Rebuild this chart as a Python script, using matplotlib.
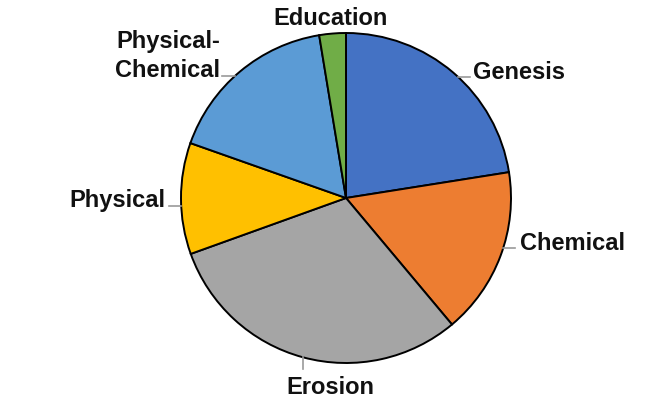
import numpy as np
import matplotlib
matplotlib.use("Agg")
import matplotlib.pyplot as plt

labels = ["Genesis", "Chemical", "Erosion", "Physical", "Physical-\nChemical", "Education"]
values = [22.5, 16.4, 30.6, 10.9, 17.0, 2.6]
colors = ["#4472C4", "#ED7D31", "#A5A5A5", "#FFC000", "#5B9BD5", "#70AD47"]

# anchor angle shift (deg), leader (dx, dy) and text baseline offset (dx, dy) in pixels, alignment
label_layout = [
    (-2.3, (12, 0), (15, -2), "left"),
    (3.0, (12, 0), (17, -2), "left"),
    (0.0, (0, -12), (27, -37), "center"),
    (2.7, (-12, 0), (-16, -1), "right"),
    (2.3, (-13, 0), (-15, -1), "right"),
    (0.0, (0, 0), (-2, 9), "center"),
]

W, H = 666, 412
fig = plt.figure(figsize=(W / 100, H / 100), dpi=100)
cx, cy, r = 346, 198, 165
ax = fig.add_axes([(cx - r) / W, (H - cy - r) / H, 2 * r / W, 2 * r / H])

wedges, _ = ax.pie(values, colors=colors, startangle=90, counterclock=False,
                   wedgeprops=dict(edgecolor="black", linewidth=1.4))
ax.set_xlim(-1, 1)
ax.set_ylim(-1, 1)
ax.set_aspect("equal")
ax.axis("off")

px = 1.0 / r
for w, lab, (shift, lead, toff, ha) in zip(wedges, labels, label_layout):
    mid = np.deg2rad((w.theta1 + w.theta2) / 2 + shift)
    ex, ey = np.cos(mid), np.sin(mid)
    if lead != (0, 0):
        ax.plot([ex, ex + lead[0] * px], [ey, ey + lead[1] * px],
                color="#9a9a9a", lw=1.2, clip_on=False)
    ax.text(ex + toff[0] * px, ey + toff[1] * px, lab, ha=ha, va="baseline",
            fontsize=17, fontweight="bold", family="Liberation Sans",
            color="#111111", linespacing=1.3, clip_on=False)

fig.savefig("out.png", dpi=100)
